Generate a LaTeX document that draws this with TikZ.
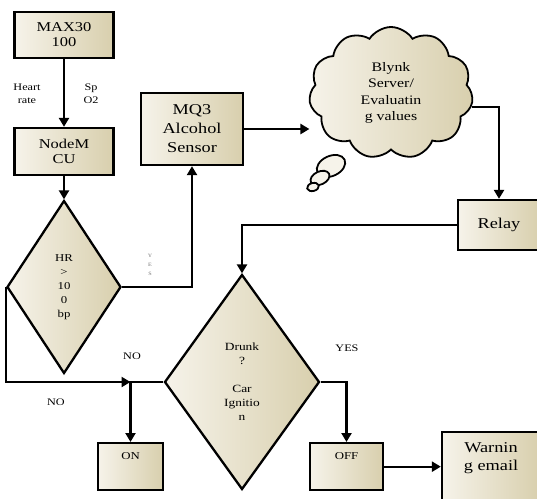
\documentclass[tikz,border=0pt]{standalone}
\usepackage{fontspec}
\setmainfont[FakeStretch=1.22]{Liberation Serif}
\usetikzlibrary{positioning, calc, shapes.geometric, shapes.symbols, arrows.meta, shadows}
\definecolor{paleivory}{HTML}{F6F3EA}
\definecolor{khaki}{HTML}{D8CFAD}
\tikzset{
    block node/.style={rectangle, draw, line width=2.3pt, left color=paleivory, right color=khaki, align=center,
        drop shadow={shadow xshift=1.2pt, shadow yshift=-1.2pt, fill=black!80, opacity=1}},
    decision node/.style={diamond, draw, line width=2.3pt, left color=paleivory, right color=khaki, align=center, inner sep=0pt},
    cloud node/.style={cloud, cloud puffs=11, cloud puff arc=115, draw, line width=1.8pt, left color=paleivory, right color=khaki, align=center},
    bubble node/.style={ellipse, draw, line width=1.8pt, fill=paleivory, inner sep=0pt},
    flow/.style={line width=2.3pt, -{Triangle[length=9pt, width=10pt]}},
    flow label/.style={font=\fontsize{10}{13}\selectfont, align=center},
}

\begin{document}
\begin{tikzpicture}[x=1pt, y=-1pt]
    \useasboundingbox (0,0) rectangle (537,498);
    \clip (0,0) rectangle (537,498);
    % sensor chain
    \node[block node, minimum width=99pt, minimum height=46pt, font=\fontsize{13.5}{15}\selectfont] (max) at (64,35) {MAX30\\100};
    \node[block node, minimum width=99pt, minimum height=47pt, font=\fontsize{13.5}{15}\selectfont] (mcu) at (64,151.5) {NodeM\\CU};
    \node[decision node, minimum width=114pt, minimum height=173pt, font=\fontsize{10.5}{14}\selectfont] (hr) at (64,287) {HR\\>\\10\\0\\bp};
    \node[block node, minimum width=102pt, minimum height=72pt, font=\fontsize{15}{19}\selectfont] (mq) at (192,129) {MQ3\\Alcohol\\Sensor};
    % thought bubbles, then the cloud over them
    \node[bubble node, minimum width=30pt, minimum height=20pt, rotate=25] (b1) at (331,166) {};
    \node[bubble node, minimum width=20pt, minimum height=13pt, rotate=25] (b2) at (320,178) {};
    \node[bubble node, minimum width=12pt, minimum height=8pt, rotate=15] (b3) at (313,187) {};
    \node[cloud node, minimum width=164pt, minimum height=132pt, font=\fontsize{13}{16.5}\selectfont] (blynk) at (391,93) {Blynk\\Server/\\Evaluatin\\g values};
    \node[block node, minimum width=82pt, minimum height=50pt, font=\fontsize{15}{18}\selectfont] (relay) at (499,225) {Relay};
    \node[decision node, minimum width=155pt, minimum height=215pt, font=\fontsize{11}{14}\selectfont] (drunk) at (242,382) {Drunk\\?\\[14pt]Car\\Ignitio\\n};
    \node[block node, anchor=north, minimum width=65pt, inner ysep=7pt, text height=9pt, text depth=24pt, font=\fontsize{10.5}{13}\selectfont] (on) at (130.5,442) {ON};
    \node[block node, anchor=north, minimum width=73pt, inner ysep=7pt, text height=9pt, text depth=24pt, font=\fontsize{10.5}{13}\selectfont] (off) at (346.5,442) {OFF};
    \node[block node, anchor=north, minimum width=98pt, inner ysep=10pt, text depth=70pt, font=\fontsize{15}{18}\selectfont] (warn) at (491,431) {Warnin\\g email};
    % labels
    \node[flow label] (hrate) at (27,94) {Heart\\rate};
    \node[flow label] (spo) at (91,94) {Sp\\O2};
    \node[flow label, font=\fontsize{5}{9}\selectfont, text=black!55] (yes1) at (150,265) {Y\\E\\S};
    \node[flow label] (no1) at (132,356) {NO};
    \node[flow label] (no2) at (56,402) {NO};
    \node[flow label] (yes2) at (347,348) {YES};
    % connectors
    \draw[flow] (max) -- (mcu);
    \draw[flow] (mcu) -- (hr);
    \draw[flow] (hr.east) -| (mq.south);
    \draw[flow] (mq.east) -- (mq.east -| blynk.west);
    \draw[flow] (blynk.-10) -| (relay.north);
    \draw[flow] (relay.west) -| (drunk.north);
    \coordinate (join) at (drunk.west -| on.north);
    \draw[flow] (drunk.west) -| (on.north);
    \draw[flow] (hr.west) |- (join);
    \draw[flow] (drunk.east) -| (off.north);
    \draw[flow] (off.east) -- (off.east -| warn.west);
\end{tikzpicture}
\end{document}
